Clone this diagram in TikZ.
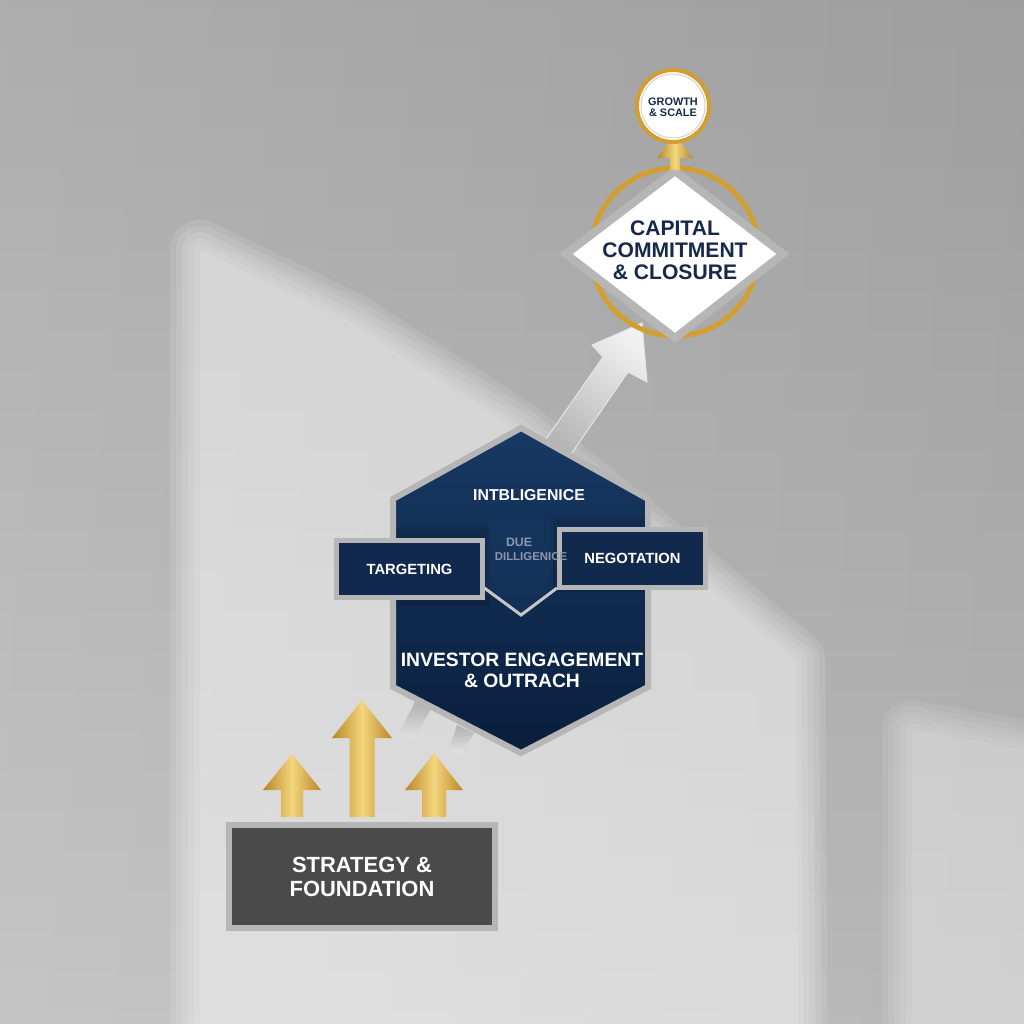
\documentclass[tikz,border=0pt]{standalone}
\usepackage{fontspec}
\setmainfont{Liberation Sans}
\definecolor{navy}{RGB}{16,41,77}
\definecolor{navyL}{RGB}{24,57,100}
\definecolor{navyD}{RGB}{9,30,60}
\definecolor{ink}{RGB}{22,41,74}
\definecolor{slab}{RGB}{74,74,74}
\definecolor{silver}{RGB}{182,182,182}
\definecolor{goldD}{RGB}{186,134,38}
\definecolor{goldL}{RGB}{243,214,126}
\definecolor{ring}{RGB}{210,158,48}
\definecolor{dueC}{RGB}{140,152,172}
\begin{document}
\begin{tikzpicture}[x=0.02cm, y=-0.02cm,
  every node/.style={align=center, inner sep=0pt, font=\bfseries},
  panel/.style={fill=navy, draw=silver, line width=0.1cm,
    minimum width=2.92cm, minimum height=1.15cm, text=white,
    font=\bfseries\fontsize{8.4}{10}\selectfont},
  onnavy/.style={text=white},
  goldarrow/.style={left color=goldD, right color=goldD, middle color=goldL},
  silverbar/.style={top color=gray!62, bottom color=gray!22}]
  \useasboundingbox (0,0) rectangle (1024,1024);
  \shade[top color=gray!68, bottom color=gray!48] (0,0) rectangle (1024,1024);
  \shade[left color=white, right color=black, opacity=0.06] (0,0) rectangle (1024,1024);
  \foreach \w in {0,12,24,36,48,60}{
    \begin{scope}[transparency group, opacity=0.11]
      \filldraw[white, line width=\w*0.02cm, line join=round]
        (200,250) -- (350,322) -- (517,430) -- (700,580) -- (795,660) -- (798,1080) -- (200,1080) -- cycle;
    \end{scope}
  }
  \foreach \w in {0,12,24,36,48,60}{
    \begin{scope}[transparency group, opacity=0.08]
      \filldraw[white, line width=\w*0.02cm, line join=round]
        (912,730) -- (1080,760) -- (1080,1080) -- (912,1080) -- cycle;
    \end{scope}
  }

  \shadedraw[top color=gray!12, bottom color=gray!62, shading angle=-35, draw=gray!20, line width=0.02cm]
    (535,455) -- (603,357) -- (592,345) -- (642,323) -- (647,382) -- (628,372) -- (560,470) -- cycle;
  \shade[silverbar] (415,702) -- (432,708) -- (412,740) -- (398,735) -- cycle;
  \shade[silverbar] (457,725) -- (474,733) -- (461,753) -- (449,750) -- cycle;

  \shadedraw[top color=navyL, bottom color=navyD, draw=silver, line width=0.12cm]
    (521,428) -- (648,499) -- (648,687) -- (521,753) -- (393,687) -- (393,499) -- cycle;
  \coordinate (hex) at (521,590);
  \fill[black, opacity=0.12] (396,528) rectangle (490,606);
  \fill[black, opacity=0.1] (550,518) rectangle (645,592);
  \fill[navyL, opacity=0.45] (488,520) -- (553,520) -- (553,588) -- (521,614) -- (486,588) -- cycle;
  \draw[gray!45, line width=0.06cm] (483,587) -- (521,615) -- (557,588);

  \node[onnavy, font=\bfseries\fontsize{9}{11}\selectfont] (intel) at (529,495) {INTBLIGENICE};
  \node[panel] (target) at (409.5,569) {TARGETING};
  \node[panel] (negot) at (632.5,558.5) {NEGOTATION};
  \node[text=dueC, font=\bfseries\fontsize{7}{9}\selectfont] (due) at (519,542) {DUE};
  \node[text=dueC, font=\bfseries\fontsize{6.5}{9}\selectfont] (dill) at (531,557) {DILLIGENICE};
  \node[onnavy, font=\bfseries\fontsize{11}{12}\selectfont] (engage) at (522,670)
    {INVESTOR ENGAGEMENT\\\& OUTRACH};

  \foreach \cx/\ty/\hb/\hw/\sw in {292/754/790/29/11, 362/700/738/30/12.5, 434/753/790/29/12}
    \shade[goldarrow] (\cx-\sw,817) -- (\cx-\sw,\hb) -- (\cx-\hw,\hb) -- (\cx,\ty)
      -- (\cx+\hw,\hb) -- (\cx+\sw,\hb) -- (\cx+\sw,817) -- cycle;

  \node[fill=slab, draw=silver, line width=0.12cm, minimum width=5.32cm, minimum height=2.06cm,
    text=white, font=\bfseries\fontsize{12.5}{13.6}\selectfont] (found) at (362,876.5)
    {STRATEGY \&\\FOUNDATION};

  \draw[ring, line width=0.1cm] (675,252) circle (1.68cm);
  \filldraw[fill=white, draw=silver, line width=0.16cm, line join=miter]
    (675,171) -- (783,254) -- (675,338) -- (566,254) -- cycle;
  \node[text=ink, font=\bfseries\fontsize{12}{12.5}\selectfont] (close) at (675,250)
    {CAPITAL\\COMMITMENT\\\& CLOSURE};

  \shade[goldarrow] (670,170) -- (670,158) -- (657,158) -- (675,135) -- (693,158) -- (680,158) -- (680,170) -- cycle;
  \filldraw[fill=white, draw=ring, line width=0.08cm] (673,106) circle (0.72cm);
  \draw[gray!35, line width=0.02cm] (673,106) circle (0.64cm);
  \node[text=ink, font=\bfseries\fontsize{6.2}{6.4}\selectfont] (growth) at (673,107.5)
    {GROWTH\\\& SCALE};
\end{tikzpicture}
\end{document}
